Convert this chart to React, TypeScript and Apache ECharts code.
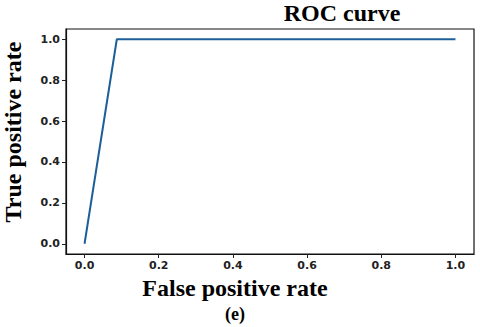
import React, { useEffect, useRef } from "react";
import * as echarts from "echarts";

const fpr = [0.0, 0.087, 1.0];
const tpr = [0.0, 1.0, 1.0];
const tickValues = [0.0, 0.2, 0.4, 0.6, 0.8, 1.0];
const titleText = "ROC curve";
const xLabel = "False positive rate";
const yLabel = "True positive rate";
const caption = "(e)";

export default function App() {
  const ref = useRef<HTMLDivElement>(null);
  useEffect(() => {
    if (!ref.current) return;
    const chart = echarts.init(ref.current, undefined, { renderer: "svg" });
    const serif = "'Liberation Serif', 'Times New Roman', serif";
    const sans = "'DejaVu Sans', sans-serif";
    const axisCommon = {
      type: "value",
      min: -0.05,
      max: 1.05,
      splitLine: { show: false },
      axisLine: { show: true, onZero: false, lineStyle: { color: "#111", width: 1.2 } },
      axisTick: { show: true, length: 4, lineStyle: { color: "#222" }, customValues: tickValues },
      axisLabel: {
        customValues: tickValues,
        formatter: (v: number) => v.toFixed(1),
        color: "#222",
        fontFamily: sans,
        fontWeight: "bold",
        fontSize: 11,
        margin: 6,
      },
    };
    chart.setOption({
      animation: false,
      backgroundColor: "#ffffff",
      grid: {
        left: 66,
        right: 6,
        top: 29,
        bottom: 73,
        show: true,
        borderColor: "#111",
        borderWidth: 1.2,
        backgroundColor: "transparent",
      },
      xAxis: axisCommon,
      yAxis: axisCommon,
      series: [
        {
          type: "line",
          data: fpr.map((x, i) => [x, tpr[i]]),
          showSymbol: false,
          lineStyle: { color: "#1d5f98", width: 2 },
        },
      ],
      graphic: [
        {
          type: "text",
          x: 342,
          y: 13,
          style: {
            text: titleText,
            fontFamily: serif,
            fontWeight: "bold",
            fontSize: 24,
            fill: "#000",
            textAlign: "center",
            textVerticalAlign: "middle",
          },
        },
        {
          type: "text",
          x: 235,
          y: 288,
          style: {
            text: xLabel,
            fontFamily: serif,
            fontWeight: "bold",
            fontSize: 24,
            fill: "#000",
            textAlign: "center",
            textVerticalAlign: "middle",
          },
        },
        {
          type: "text",
          x: 235,
          y: 314,
          style: {
            text: caption,
            fontFamily: serif,
            fontWeight: "bold",
            fontSize: 18,
            fill: "#000",
            textAlign: "center",
            textVerticalAlign: "middle",
          },
        },
        {
          type: "text",
          x: 13,
          y: 132,
          rotation: Math.PI / 2,
          style: {
            text: yLabel,
            fontFamily: serif,
            fontWeight: "bold",
            fontSize: 24,
            fill: "#000",
            textAlign: "center",
            textVerticalAlign: "middle",
          },
        },
      ],
    });
    return () => chart.dispose();
  }, []);
  return (
    <div
      ref={ref}
      style={{ position: "fixed", left: 0, top: 0, width: 480, height: 327, background: "#fff" }}
    />
  );
}
